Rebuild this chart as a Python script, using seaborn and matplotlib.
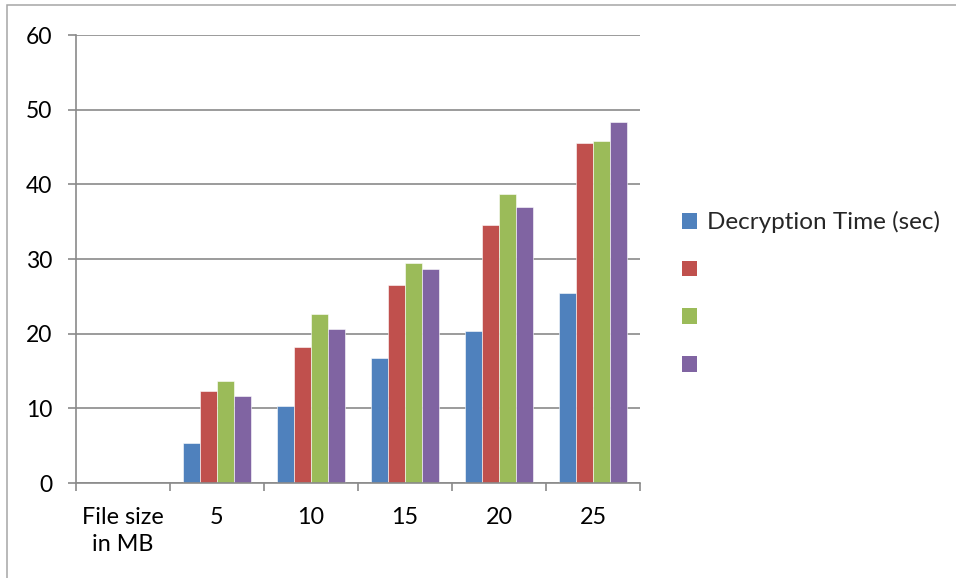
import numpy as np
import pandas as pd
import matplotlib
matplotlib.use("Agg")
import matplotlib.pyplot as plt
import matplotlib.patches as mpatches
import seaborn as sns

# Data
categories = ["File size\nin MB", "5", "10", "15", "20", "25"]
series_names = ["Decryption Time (sec)", "s2", "s3", "s4"]
legend_labels = ["Decryption Time (sec)", "", "", ""]
s1 = [np.nan, 5.4, 10.3, 16.8, 20.4, 25.5]
s2 = [np.nan, 12.3, 18.2, 26.5, 34.6, 45.5]
s3 = [np.nan, 13.6, 22.7, 29.4, 38.7, 45.8]
s4 = [np.nan, 11.6, 20.6, 28.6, 36.9, 48.4]
y_ticks = [0, 10, 20, 30, 40, 50, 60]

colors = ["#4F81BD", "#C0504D", "#9BBB59", "#8064A2"]
grid_col = "#8A8A8A"

rows = []
for name, vals in zip(series_names, [s1, s2, s3, s4]):
    for cat, v in zip(categories, vals):
        rows.append({"size": cat, "time": v, "series": name})
df = pd.DataFrame(rows)

sns.set_theme(style="white")
plt.rcParams["font.family"] = ["Lato", "DejaVu Sans"]

W, H = 956, 578
fig = plt.figure(figsize=(W / 100, H / 100), dpi=100)
ax = fig.add_axes([76 / W, (H - 483) / H, (640 - 76) / W, (483 - 35) / H])

sns.barplot(data=df, x="size", y="time", hue="series", order=categories,
            hue_order=series_names, palette=colors, width=4 / 5.5, gap=0,
            saturation=1, edgecolor="white", linewidth=0.4, ax=ax,
            legend=False, errorbar=None)

ax.set_ylim(0, 60)
ax.set_xlim(-0.5, len(categories) - 0.5)
ax.set_yticks(y_ticks)
ax.set_xlabel("")
ax.set_ylabel("")
ax.yaxis.grid(True, color=grid_col, linewidth=1.2)
ax.set_axisbelow(True)
for s in ["top", "right"]:
    ax.spines[s].set_visible(False)
for s in ["left", "bottom"]:
    ax.spines[s].set_color(grid_col)
    ax.spines[s].set_linewidth(1.2)

ax.tick_params(axis="y", which="major", length=6, width=1.2, color=grid_col,
               direction="out", pad=11, labelsize=16.5, labelcolor="black", left=True)
ax.set_xticks(np.arange(len(categories)))
ax.set_xticklabels(categories, linespacing=1.4)
ax.set_xticks(np.arange(len(categories) + 1) - 0.5, minor=True)
ax.tick_params(axis="x", which="major", length=0, pad=17, labelsize=16.8,
               labelcolor="black")
ax.tick_params(axis="x", which="minor", length=6, width=1.2, color=grid_col,
               direction="out", bottom=True)
for lbl in ax.get_xticklabels():
    lbl.set_verticalalignment("top")

handles = [mpatches.Patch(facecolor=c, edgecolor="none") for c in colors]
ax.legend(handles, legend_labels, loc="center left",
          bbox_to_anchor=(682 / W, (H - 294) / H), bbox_transform=fig.transFigure,
          frameon=False, fontsize=17.5, handlelength=0.62, handleheight=0.62,
          handletextpad=0.4, labelspacing=1.1, borderaxespad=0, borderpad=0)

# Outer chart frame
fig.add_artist(mpatches.Rectangle((7 / W, -0.1), 1.2, 1.1 - 5 / H,
                                  transform=fig.transFigure, fill=False,
                                  edgecolor="#A6A6A6", linewidth=1.1))

fig.savefig("out.png", dpi=100)
